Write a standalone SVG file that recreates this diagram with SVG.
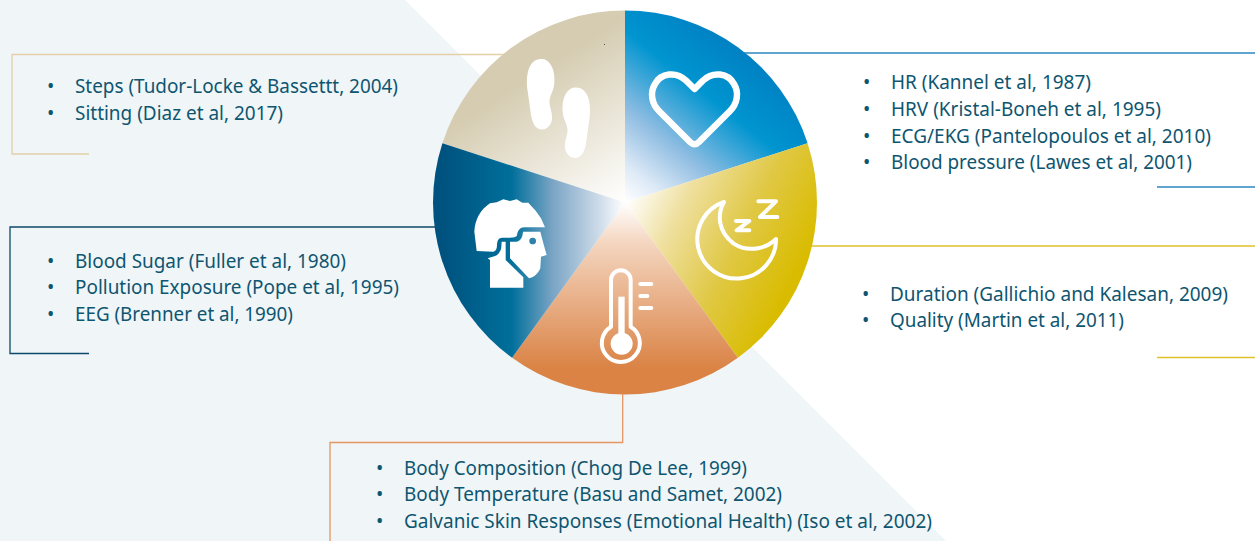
<svg xmlns="http://www.w3.org/2000/svg" xmlns:xlink="http://www.w3.org/1999/xlink" width="1255" height="541" viewBox="0 0 1255 541">
<style>
text{font-family:"Noto Sans","Open Sans","DejaVu Sans",sans-serif;font-size:19.5px;fill:#0e5570}
.c{fill:none;stroke-width:1.3}
.ico{fill:none;stroke:#fff;stroke-width:12;stroke-linejoin:round;stroke-linecap:round}
.w{fill:#fff}
</style>
<defs>
<linearGradient id="gB" gradientUnits="userSpaceOnUse" x1="625" y1="202" x2="760" y2="32"><stop offset="0" stop-color="#fff"/><stop offset=".14" stop-color="#dce9f6"/><stop offset=".34" stop-color="#8fbde2"/><stop offset=".62" stop-color="#0095d0"/><stop offset="1" stop-color="#0078bd"/></linearGradient>
<linearGradient id="gY" gradientUnits="userSpaceOnUse" x1="625" y1="202" x2="790" y2="285"><stop offset="0" stop-color="#fff"/><stop offset=".28" stop-color="#efe0a0"/><stop offset=".64" stop-color="#e0c845"/><stop offset="1" stop-color="#d9bc00"/></linearGradient>
<linearGradient id="gO" gradientUnits="userSpaceOnUse" x1="625" y1="202" x2="625" y2="368"><stop offset="0" stop-color="#fff"/><stop offset=".25" stop-color="#f4d5bf"/><stop offset="1" stop-color="#da8345"/></linearGradient>
<linearGradient id="gD" gradientUnits="userSpaceOnUse" x1="625" y1="202" x2="445" y2="202"><stop offset="0" stop-color="#fff"/><stop offset=".14" stop-color="#cfdcea"/><stop offset=".4" stop-color="#7ba5c5"/><stop offset=".63" stop-color="#006f9b"/><stop offset="1" stop-color="#00537f"/></linearGradient>
<linearGradient id="gT" gradientUnits="userSpaceOnUse" x1="625" y1="202" x2="540" y2="70"><stop offset="0" stop-color="#fff"/><stop offset="1" stop-color="#d5ccb1"/></linearGradient>
</defs>
<polygon id="background" points="0,0 405,0 946,541 0,541" fill="#f0f5f8"/>
<g id="connectors">
<path class="c" stroke="#e3cfa8" d="M505 54.500H12V154H89"/>
<path class="c" stroke="#2f86c1" d="M700 53H1255M1157 187H1255"/>
<path class="c" stroke="#dfc12c" d="M805 246H1255M1157 357.500H1255"/>
<path class="c" stroke="#0b4a68" d="M440 227H10V353.500H89"/>
<path class="c" stroke="#e59562" d="M622.700 385V442.500H330V541"/>
</g>
<g id="steps-node">
<path d="M625 202.500V10.500A192 192 0 0 0 442.400 143.200Z" fill="url(#gT)"/>
<g class="w"><path id="foot" d="M541.500 59C549 59 554.500 67 554.500 80C554.500 92 549 95 549.500 103C550 108 552.500 113 552 119C551.500 125 547 129.500 542 129.500C536 129.500 532.500 124 531 115L527.500 90C526 78 527 59 541.500 59Z"/>
<use xlink:href="#foot" href="#foot" transform="translate(1117,28.400) scale(-1,1)"/></g>
<rect x="604" y="44" width="1" height="1" fill="#555"/>
</g>
<g id="heart-node">
<path d="M625 202.500V10.500A192 192 0 0 1 807.600 143.200Z" fill="url(#gB)"/>
<path fill="none" stroke="#fff" stroke-width="6.500" stroke-linejoin="round" d="M694.600 89L686 80.500C676 71 661 73 655 84C649.500 93 652 104 659 111L690 142Q694.600 146.500 699 142L730 111C737 104 739.500 93 734 84C728 73 713 71 703 80.500Z"/>
</g>
<g id="sleep-node">
<path d="M625 202.500L807.600 143.200A192 192 0 0 1 737.900 357.800Z" fill="url(#gY)"/>
<g transform="translate(420,190) scale(.33333)" class="ico">
<path d="M912 36A118 118 0 1 0 1068 147C1040 175 985 190 940 160C895 125 890 75 912 36Z"/>
<path d="M1015 34H1068L1020 81H1072M948 93H988L950 121H988"/>
</g>
</g>
<g id="temperature-node">
<path d="M625 202.500L737.900 357.800A192 192 0 0 1 512.100 357.800Z" fill="url(#gO)"/>
<g transform="translate(420,190) scale(.33333)">
<g class="ico"><path d="M573 410V270A29.500 29.500 0 0 1 632 270V410A57 57 0 1 1 573 410Z"/>
<path d="M661 282H694M661 318H682M661 354H694"/></g>
<rect class="w" x="595" y="320" width="19" height="125"/>
<circle class="w" cx="605" cy="461" r="33"/>
</g>
</g>
<g id="head-node">
<path d="M625 202.500L512.100 357.800A192 192 0 0 1 442.400 143.200Z" fill="url(#gD)"/>
<g transform="translate(465,190) scale(.33333)" class="w">
<path d="M75 40L95 37L115 28L135 33L155 28L172 38L190 38L212 62L228 85L240 112H178C165 112 158 122 156 136C152 143 145 144 112 143C100 143 97 152 96 165C96 177 92 184 85 185L35 183L28 125C30 90 45 60 75 40Z"/>
<path d="M174 125H226L235 160L245 195L228 200L226 235C220 250 208 262 192 265L135 205V155H155C168 153 173 140 174 125Z"/>
<path d="M68 205L88 199C100 195 108 183 109 170L110 155H122V210L175 262V293H75V210Z"/>
<circle cx="203" cy="153" r="10" fill="#2f80aa"/>
</g>
</g>
<g id="steps-text">
<text x="47" y="93">•</text><text x="75" y="93" textLength="323" lengthAdjust="spacingAndGlyphs">Steps (Tudor-Locke &amp; Bassettt, 2004)</text>
<text x="47" y="120">•</text><text x="75" y="120" textLength="208" lengthAdjust="spacingAndGlyphs">Sitting (Diaz et al, 2017)</text>
</g>
<g id="heart-text">
<text x="863" y="89">•</text><text x="891" y="89" textLength="200" lengthAdjust="spacingAndGlyphs">HR (Kannel et al, 1987)</text>
<text x="863" y="116">•</text><text x="891" y="116" textLength="270" lengthAdjust="spacingAndGlyphs">HRV (Kristal-Boneh et al, 1995)</text>
<text x="863" y="143">•</text><text x="891" y="143" textLength="320" lengthAdjust="spacingAndGlyphs">ECG/EKG (Pantelopoulos et al, 2010)</text>
<text x="863" y="169">•</text><text x="891" y="169" textLength="301" lengthAdjust="spacingAndGlyphs">Blood pressure (Lawes et al, 2001)</text>
</g>
<g id="sleep-text">
<text x="862" y="301">•</text><text x="890" y="301" textLength="338" lengthAdjust="spacingAndGlyphs">Duration (Gallichio and Kalesan, 2009)</text>
<text x="862" y="327">•</text><text x="890" y="327" textLength="234" lengthAdjust="spacingAndGlyphs">Quality (Martin et al, 2011)</text>
</g>
<g id="head-text">
<text x="47" y="268">•</text><text x="75" y="268" textLength="271" lengthAdjust="spacingAndGlyphs">Blood Sugar (Fuller et al, 1980)</text>
<text x="47" y="294">•</text><text x="75" y="294" textLength="324" lengthAdjust="spacingAndGlyphs">Pollution Exposure (Pope et al, 1995)</text>
<text x="47" y="321">•</text><text x="75" y="321" textLength="218" lengthAdjust="spacingAndGlyphs">EEG (Brenner et al, 1990)</text>
</g>
<g id="temperature-text">
<text x="376" y="475">•</text><text x="404" y="475" textLength="343" lengthAdjust="spacingAndGlyphs">Body Composition (Chog De Lee, 1999)</text>
<text x="376" y="501">•</text><text x="404" y="501" textLength="378" lengthAdjust="spacingAndGlyphs">Body Temperature (Basu and Samet, 2002)</text>
<text x="376" y="528">•</text><text x="404" y="528" textLength="528" lengthAdjust="spacingAndGlyphs">Galvanic Skin Responses (Emotional Health) (Iso et al, 2002)</text>
</g>
</svg>
